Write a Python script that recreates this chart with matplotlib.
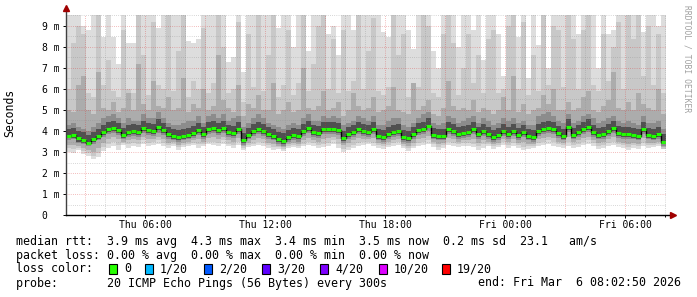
import numpy as np
import matplotlib
matplotlib.use('Agg')
import matplotlib.pyplot as plt
from matplotlib.patches import Rectangle

# 15 minute columns, hours counted from Thu 00:00
start_hour = 2.047
step_hours = 0.25

median = [3.78, 3.80, 3.65, 3.58, 3.45, 3.60, 3.75, 3.95, 4.10, 4.15,
          4.05, 3.80, 3.95, 4.00, 3.95, 4.15, 4.05, 4.00, 4.20, 4.05,
          3.85, 3.75, 3.70, 3.75, 3.80, 3.90, 4.05, 3.85, 4.10, 4.15,
          4.05, 4.15, 3.95, 3.90, 4.10, 3.55, 3.80, 4.00, 4.10, 4.00,
          3.85, 3.75, 3.60, 3.52, 3.70, 3.80, 3.75, 4.00, 4.15, 3.95,
          3.90, 4.10, 4.10, 4.10, 4.05, 3.65, 3.85, 3.95, 4.10, 4.00,
          3.95, 4.10, 3.75, 3.70, 3.85, 3.95, 4.00, 3.70, 3.65, 3.85,
          4.05, 4.10, 4.25, 3.80, 3.75, 3.75, 4.10, 4.00, 3.85, 3.90,
          3.95, 4.10, 3.85, 4.00, 3.85, 3.70, 3.80, 4.00, 3.85, 4.00,
          3.80, 3.95, 3.75, 3.70, 4.00, 4.10, 4.15, 4.10, 3.90, 3.75,
          4.20, 3.80, 3.95, 4.10, 4.20, 3.95, 3.80, 3.85, 4.00, 4.15,
          3.90, 3.85, 3.85, 3.80, 3.75, 4.10, 3.80, 3.75, 3.85, 3.50]

# smoke bands (ms), outermost first
lo1 = [3.0, 2.95, 3.1, 2.9, 2.8, 2.65, 2.75, 3.05, 3.2, 3.3,
       3.1, 3.35, 3.2, 3.3, 3.25, 3.4, 3.3, 3.35, 3.4, 3.3,
       3.2, 3.3, 3.1, 3.25, 3.3, 3.35, 3.2, 3.3, 3.4, 3.35,
       3.3, 3.4, 3.3, 3.2, 3.35, 3.1, 3.25, 3.3, 3.35, 3.3,
       3.2, 3.1, 3.15, 3.05, 3.2, 3.25, 3.2, 3.3, 3.35, 3.3,
       3.2, 3.25, 3.3, 3.4, 3.2, 3.0, 3.1, 3.2, 3.3, 3.35,
       3.4, 3.3, 3.2, 3.15, 3.25, 3.3, 3.35, 3.2, 3.05, 3.2,
       3.3, 3.35, 3.4, 3.25, 3.1, 3.2, 3.35, 3.3, 3.25, 3.3,
       3.3, 3.25, 3.1, 3.2, 3.3, 3.15, 3.25, 3.35, 3.2, 3.3,
       3.2, 3.1, 3.15, 3.2, 3.3, 3.35, 3.4, 3.3, 3.25, 3.2,
       3.3, 3.2, 3.25, 3.35, 3.4, 3.3, 3.15, 3.2, 3.3, 3.35,
       3.25, 3.2, 3.1, 3.2, 3.15, 3.3, 3.2, 3.25, 3.3, 3.2]
hi1 = [9.6, 9.6, 9.6, 9.0, 8.8, 9.6, 9.6, 8.5, 9.6, 8.5,
       7.2, 9.6, 8.2, 8.2, 9.6, 9.6, 9.6, 9.6, 8.9, 9.6,
       9.6, 9.6, 9.6, 9.6, 8.3, 8.2, 8.4, 9.6, 9.6, 9.6,
       9.6, 9.6, 7.3, 7.5, 9.6, 6.8, 9.6, 9.6, 9.6, 9.6,
       9.6, 9.6, 8.9, 9.6, 9.6, 8.0, 9.6, 9.6, 7.8, 9.6,
       9.6, 9.6, 8.6, 9.0, 7.6, 9.6, 9.6, 8.8, 9.6, 9.6,
       9.6, 9.6, 9.6, 8.7, 8.5, 9.6, 9.6, 9.6, 8.8, 7.9,
       9.6, 9.6, 9.6, 7.8, 7.0, 9.6, 9.6, 9.6, 8.0, 9.6,
       9.6, 8.8, 9.6, 7.4, 9.6, 9.6, 8.6, 6.6, 9.6, 9.6,
       8.5, 9.6, 6.5, 9.6, 8.1, 9.6, 7.0, 9.6, 9.6, 9.6,
       9.6, 9.6, 8.6, 9.6, 9.6, 9.6, 7.0, 9.6, 8.6, 8.8,
       9.6, 9.6, 9.6, 9.6, 9.6, 8.7, 9.6, 9.6, 9.0, 9.6]
lo2 = [3.2, 3.15, 3.2, 3.05, 2.95, 2.8, 2.95, 3.25, 3.4, 3.5,
       3.35, 3.45, 3.4, 3.45, 3.4, 3.55, 3.45, 3.5, 3.55, 3.45,
       3.35, 3.4, 3.25, 3.35, 3.4, 3.45, 3.4, 3.4, 3.5, 3.5,
       3.45, 3.55, 3.4, 3.35, 3.5, 3.2, 3.35, 3.4, 3.5, 3.45,
       3.35, 3.25, 3.25, 3.15, 3.3, 3.35, 3.3, 3.4, 3.5, 3.45,
       3.35, 3.4, 3.45, 3.55, 3.4, 3.15, 3.25, 3.35, 3.45, 3.5,
       3.5, 3.45, 3.35, 3.3, 3.35, 3.45, 3.5, 3.3, 3.2, 3.3,
       3.45, 3.5, 3.55, 3.4, 3.25, 3.35, 3.5, 3.45, 3.4, 3.45,
       3.45, 3.4, 3.3, 3.4, 3.4, 3.3, 3.35, 3.5, 3.35, 3.45,
       3.35, 3.25, 3.3, 3.3, 3.45, 3.5, 3.55, 3.5, 3.4, 3.35,
       3.5, 3.35, 3.4, 3.5, 3.55, 3.45, 3.3, 3.35, 3.45, 3.5,
       3.4, 3.35, 3.25, 3.35, 3.3, 3.45, 3.35, 3.35, 3.4, 3.15]
hi2 = [6.0, 8.2, 9.0, 8.6, 5.8, 5.6, 9.6, 6.2, 7.4, 5.9,
       5.6, 8.8, 6.0, 5.8, 9.6, 7.6, 5.7, 9.2, 6.2, 6.0,
       9.6, 5.9, 7.8, 9.6, 5.6, 6.4, 6.0, 8.9, 5.8, 6.3,
       9.6, 8.0, 5.8, 6.0, 9.2, 5.4, 8.6, 6.1, 9.6, 5.9,
       7.6, 9.6, 5.6, 6.2, 8.8, 5.7, 6.3, 9.6, 5.9, 7.2,
       9.0, 9.6, 6.0, 8.4, 5.8, 8.8, 5.9, 6.4, 9.6, 6.0,
       7.8, 9.4, 5.9, 5.7, 6.1, 9.6, 7.6, 8.6, 5.6, 6.2,
       6.1, 9.6, 9.0, 5.8, 5.6, 8.6, 9.6, 8.2, 5.7, 7.0,
       8.6, 6.3, 7.6, 5.8, 8.4, 8.8, 5.8, 6.0, 9.0, 9.6,
       6.0, 9.2, 5.7, 7.6, 5.9, 9.6, 6.2, 9.0, 8.8, 6.1,
       9.6, 8.4, 6.0, 8.8, 9.6, 6.2, 5.9, 8.6, 6.4, 8.0,
       9.2, 6.0, 9.6, 8.4, 9.6, 6.6, 9.0, 6.2, 8.6, 5.8]
lo3 = [3.35, 3.35, 3.3, 3.2, 3.1, 3.0, 3.2, 3.45, 3.6, 3.7,
       3.6, 3.5, 3.55, 3.6, 3.55, 3.7, 3.6, 3.6, 3.7, 3.6,
       3.45, 3.5, 3.35, 3.45, 3.5, 3.55, 3.6, 3.5, 3.65, 3.7,
       3.6, 3.7, 3.55, 3.5, 3.65, 3.3, 3.45, 3.55, 3.65, 3.6,
       3.45, 3.4, 3.3, 3.25, 3.4, 3.45, 3.4, 3.55, 3.65, 3.55,
       3.5, 3.6, 3.65, 3.7, 3.6, 3.35, 3.45, 3.55, 3.65, 3.6,
       3.6, 3.65, 3.45, 3.4, 3.5, 3.55, 3.6, 3.4, 3.3, 3.45,
       3.6, 3.65, 3.75, 3.5, 3.4, 3.45, 3.65, 3.6, 3.5, 3.55,
       3.55, 3.6, 3.45, 3.55, 3.5, 3.4, 3.45, 3.6, 3.5, 3.6,
       3.45, 3.5, 3.4, 3.4, 3.6, 3.65, 3.7, 3.65, 3.5, 3.45,
       3.7, 3.5, 3.55, 3.65, 3.7, 3.55, 3.45, 3.5, 3.6, 3.7,
       3.5, 3.45, 3.4, 3.45, 3.4, 3.65, 3.45, 3.45, 3.5, 3.25]
hi3 = [5.0, 4.9, 6.2, 6.6, 5.0, 4.8, 6.8, 5.1, 5.0, 5.4,
       4.9, 5.1, 5.8, 5.0, 7.2, 5.3, 5.0, 6.4, 5.2, 5.1,
       5.6, 5.0, 5.1, 6.5, 4.9, 5.3, 5.1, 6.0, 5.0, 5.2,
       7.6, 5.5, 5.1, 4.9, 6.2, 4.7, 5.3, 5.1, 5.7, 5.0,
       5.0, 6.3, 4.8, 5.0, 5.4, 4.9, 5.0, 7.0, 5.1, 5.0,
       5.2, 5.9, 5.0, 5.1, 5.4, 4.7, 5.0, 5.8, 5.2, 5.0,
       5.1, 5.6, 4.9, 5.0, 5.2, 6.1, 5.0, 4.9, 4.8, 6.3,
       5.0, 5.2, 5.5, 4.8, 4.7, 5.1, 6.4, 5.2, 5.0, 5.1,
       5.0, 5.5, 4.9, 5.1, 5.0, 4.8, 5.0, 5.6, 5.0, 6.6,
       4.9, 5.3, 4.8, 5.0, 5.1, 5.7, 5.3, 6.0, 5.0, 5.0,
       5.4, 5.0, 5.1, 5.6, 5.9, 5.0, 4.9, 5.2, 5.5, 6.8,
       5.1, 5.0, 5.4, 5.0, 5.8, 5.3, 5.1, 5.0, 6.0, 4.8]
lo4 = [3.55, 3.6, 3.45, 3.4, 3.3, 3.4, 3.55, 3.7, 3.85, 3.9,
       3.8, 3.6, 3.7, 3.75, 3.7, 3.9, 3.8, 3.75, 3.9, 3.8,
       3.6, 3.55, 3.5, 3.55, 3.6, 3.65, 3.8, 3.6, 3.85, 3.9,
       3.8, 3.9, 3.7, 3.65, 3.85, 3.35, 3.6, 3.75, 3.85, 3.75,
       3.6, 3.55, 3.4, 3.3, 3.5, 3.55, 3.5, 3.75, 3.9, 3.7,
       3.65, 3.85, 3.85, 3.85, 3.8, 3.45, 3.6, 3.7, 3.85, 3.75,
       3.7, 3.85, 3.55, 3.5, 3.6, 3.7, 3.75, 3.5, 3.45, 3.6,
       3.8, 3.85, 4.0, 3.6, 3.55, 3.55, 3.85, 3.75, 3.6, 3.65,
       3.7, 3.85, 3.6, 3.75, 3.6, 3.5, 3.55, 3.75, 3.6, 3.75,
       3.55, 3.7, 3.55, 3.5, 3.75, 3.85, 3.9, 3.85, 3.65, 3.55,
       3.95, 3.6, 3.7, 3.85, 3.95, 3.7, 3.6, 3.6, 3.75, 3.9,
       3.65, 3.6, 3.6, 3.6, 3.55, 3.85, 3.6, 3.55, 3.6, 3.3]
hi4 = [4.3, 4.4, 4.2, 4.1, 4.0, 4.2, 4.4, 4.6, 4.7, 4.8,
       4.6, 4.4, 4.6, 4.5, 4.5, 4.8, 4.6, 4.6, 4.9, 4.6,
       4.4, 4.3, 4.3, 4.4, 4.5, 4.5, 4.7, 4.4, 4.7, 4.8,
       4.6, 4.8, 4.5, 4.6, 4.7, 4.2, 4.4, 4.6, 4.8, 4.6,
       4.4, 4.3, 4.2, 4.1, 4.3, 4.4, 4.3, 4.6, 4.8, 4.5,
       4.5, 4.7, 4.6, 4.7, 4.6, 4.3, 4.4, 4.5, 4.7, 4.6,
       4.5, 4.7, 4.3, 4.3, 4.5, 4.6, 4.6, 4.3, 4.2, 4.4,
       4.6, 4.8, 4.9, 4.4, 4.3, 4.4, 4.7, 4.6, 4.4, 4.5,
       4.6, 4.7, 4.4, 4.6, 4.5, 4.3, 4.4, 4.6, 4.5, 4.6,
       4.4, 4.5, 4.3, 4.3, 4.7, 4.8, 4.9, 4.7, 4.5, 4.4,
       4.8, 4.4, 4.5, 4.7, 4.8, 4.6, 4.4, 4.5, 4.6, 4.7,
       4.5, 4.4, 4.5, 4.4, 4.3, 4.7, 4.4, 4.4, 4.5, 4.1]
lo5 = [3.65, 3.68, 3.5, 3.45, 3.33, 3.48, 3.62, 3.82, 3.97, 4.02,
       3.92, 3.67, 3.82, 3.87, 3.82, 4.02, 3.92, 3.87, 4.07, 3.92,
       3.72, 3.62, 3.57, 3.62, 3.67, 3.77, 3.92, 3.72, 3.97, 4.02,
       3.92, 4.02, 3.82, 3.77, 3.97, 3.42, 3.67, 3.87, 3.97, 3.87,
       3.72, 3.62, 3.47, 3.4, 3.57, 3.67, 3.62, 3.87, 4.02, 3.82,
       3.77, 3.97, 3.97, 3.97, 3.92, 3.52, 3.72, 3.82, 3.97, 3.87,
       3.82, 3.97, 3.62, 3.57, 3.72, 3.82, 3.87, 3.57, 3.52, 3.72,
       3.92, 3.97, 4.12, 3.67, 3.62, 3.62, 3.97, 3.87, 3.72, 3.77,
       3.82, 3.97, 3.72, 3.87, 3.72, 3.57, 3.67, 3.87, 3.72, 3.87,
       3.67, 3.82, 3.62, 3.57, 3.87, 3.97, 4.02, 3.97, 3.77, 3.62,
       4.07, 3.67, 3.82, 3.97, 4.07, 3.82, 3.67, 3.72, 3.87, 4.02,
       3.77, 3.72, 3.72, 3.67, 3.62, 3.97, 3.67, 3.62, 3.72, 3.37]
hi5 = [4.1, 4.15, 4.0, 3.95, 3.8, 3.95, 4.1, 4.3, 4.45, 4.5,
       4.4, 4.15, 4.3, 4.35, 4.3, 4.5, 4.4, 4.35, 4.55, 4.4,
       4.2, 4.1, 4.05, 4.1, 4.15, 4.25, 4.4, 4.2, 4.45, 4.5,
       4.4, 4.5, 4.3, 4.25, 4.45, 3.9, 4.15, 4.35, 4.45, 4.35,
       4.2, 4.1, 3.95, 3.9, 4.05, 4.15, 4.1, 4.35, 4.5, 4.3,
       4.25, 4.45, 4.45, 4.45, 4.4, 4.0, 4.2, 4.3, 4.45, 4.35,
       4.3, 4.45, 4.1, 4.05, 4.2, 4.3, 4.35, 4.05, 4.0, 4.2,
       4.4, 4.45, 4.6, 4.15, 4.1, 4.1, 4.45, 4.35, 4.2, 4.25,
       4.3, 4.45, 4.2, 4.35, 4.2, 4.05, 4.15, 4.35, 4.2, 4.35,
       4.15, 4.3, 4.1, 4.05, 4.35, 4.45, 4.5, 4.45, 4.25, 4.1,
       4.55, 4.15, 4.3, 4.45, 4.55, 4.3, 4.15, 4.2, 4.35, 4.5,
       4.25, 4.2, 4.2, 4.15, 4.1, 4.45, 4.15, 4.1, 4.2, 3.85]

y_ticks = [0, 1, 2, 3, 4, 5, 6, 7, 8, 9]
y_labels = ['0  ', '1 m', '2 m', '3 m', '4 m', '5 m', '6 m', '7 m', '8 m', '9 m']
x_ticks = [6, 12, 18, 24, 30]
x_labels = ['Thu 06:00', 'Thu 12:00', 'Thu 18:00', 'Fri 00:00', 'Fri 06:00']

loss_labels = ['0', '1/20', '2/20', '3/20', '4/20', '10/20', '19/20']
loss_colors = ['#26ff00', '#00b8ff', '#0059ff', '#5e00ff', '#7e00ff', '#dd00ff', '#ff0000']

mono = 'DejaVu Sans Mono'
W, H = 697, 297

fig = plt.figure(figsize=(W / 100, H / 100), dpi=100)
ax = fig.add_axes([66 / W, 82 / H, 600 / W, 200 / H])

edges = start_hour + step_hours * np.arange(len(median) + 1)


def ext(a):
    return np.append(a, a[-1])


# smoke, light outer pings to dark inner ones
for lo, hi, c in [(lo1, hi1, '#dddddd'), (lo2, hi2, '#c8c8c8'),
                  (lo3, hi3, '#acacac'), (lo4, hi4, '#8c8c8c'),
                  (lo5, hi5, '#505050')]:
    ax.fill_between(edges, ext(lo), ext(hi), step='post', color=c, lw=0, zorder=1)

# median
ax.step(edges, ext(median), where='post', color='black', lw=1, zorder=3)
ax.hlines(median, edges[:-1], edges[1:], color='#20ff00', lw=2.2, zorder=4)

ax.set_xlim(start_hour, start_hour + 30)
ax.set_ylim(0, 200 / 21)

# grid on top of data, rrdtool style
minor_c = (0.55, 0.55, 0.55, 0.45)
major_c = (0.85, 0.15, 0.15, 0.4)
for h in range(3, 33):
    ax.axvline(h, color=major_c if h % 3 == 0 else minor_c, lw=0.72,
               dashes=(0.72, 1.44), zorder=5)
for v in np.arange(0.5, 9.6, 0.5):
    ax.axhline(v, color=major_c if v % 1 == 0 else minor_c, lw=0.72,
               dashes=(0.72, 1.44), zorder=5)

for s in ax.spines.values():
    s.set_visible(False)
ax.plot([0, 0], [0, 1.03], transform=ax.transAxes, color='#404040', lw=1,
        clip_on=False, zorder=6)
ax.plot([0, 1.01], [0, 0], transform=ax.transAxes, color='black', lw=1,
        clip_on=False, zorder=6)
ax.plot([0], [1.035], transform=ax.transAxes, marker='^', color='#a00000',
        markersize=4, clip_on=False, zorder=7)
ax.plot([1.012], [0], transform=ax.transAxes, marker='>', color='#a00000',
        markersize=4, clip_on=False, zorder=7)

ax.set_yticks(y_ticks)
ax.set_yticklabels(y_labels, family=mono, fontsize=7)
ax.set_xticks(x_ticks)
ax.set_xticklabels(x_labels, family=mono, fontsize=7)
ax.set_xticks(range(3, 33), minor=True)
ax.tick_params(axis='y', length=2.2, width=0.7, pad=2.5, color='black')
ax.tick_params(axis='x', which='major', length=2.2, width=0.7, pad=1.5)
ax.tick_params(axis='x', which='minor', length=1.4, width=0.7)

fig.text(10 / W, 1 - 113 / H, 'Seconds', rotation=90, va='center', ha='center',
         family=mono, fontsize=8.3)
fig.text(687 / W, 1 - 5 / H, 'RRDTOOL / TOBI OETIKER', rotation=270, va='top',
         ha='center', family=mono, fontsize=5.8, color='#a0a0a0')

# legend rows
rows = [241, 255, 269, 283]
fs = 8.4


def put(x, row, s):
    fig.text(x / W, 1 - rows[row] / H, s, family=mono, fontsize=fs,
             va='center', ha='left')


put(16, 0, 'median rtt:  3.9 ms avg  4.3 ms max  3.4 ms min  3.5 ms now  0.2 ms sd  23.1   am/s')
put(16, 1, 'packet loss: 0.00 % avg  0.00 % max  0.00 % min  0.00 % now')
put(16, 2, 'loss color:')
box_x = [109, 145, 204, 262, 320, 379, 442]
for bx, lab, col in zip(box_x, loss_labels, loss_colors):
    fig.patches.append(Rectangle((bx / W, 1 - (rows[2] + 5) / H), 8 / W, 10 / H,
                                 transform=fig.transFigure, facecolor=col,
                                 edgecolor='black', lw=0.8))
    put(bx + 15, 2, lab)
put(16, 3, 'probe:       20 ICMP Echo Pings (56 Bytes) every 300s')
put(478, 3, 'end: Fri Mar  6 08:02:50 2026')

fig.savefig('out.png', dpi=100, facecolor='white')
